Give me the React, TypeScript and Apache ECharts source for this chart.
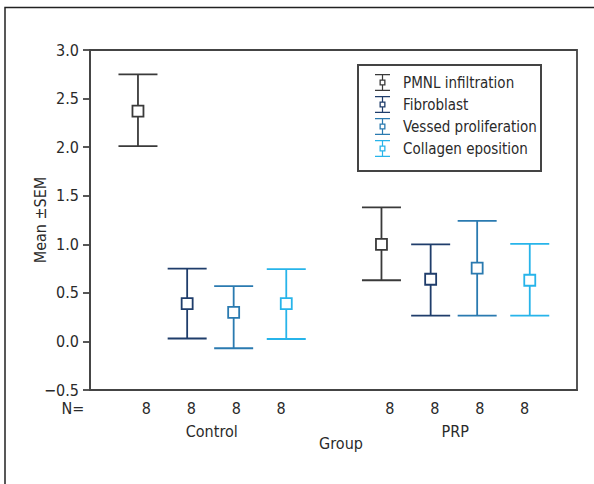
import React, { useEffect, useRef } from 'react';
import * as echarts from 'echarts';

// ---- data ----
const categories = ['Control', 'PRP'];
const seriesNames = ['PMNL infiltration', 'Fibroblast', 'Vessed proliferation', 'Collagen eposition'];

const pmnlMean = [2.37, 1.0];
const pmnlLow = [2.01, 0.63];
const pmnlHigh = [2.75, 1.38];

const fibroMean = [0.39, 0.64];
const fibroLow = [0.03, 0.265];
const fibroHigh = [0.75, 1.0];

const vessedMean = [0.3, 0.755];
const vessedLow = [-0.07, 0.265];
const vessedHigh = [0.57, 1.24];

const collagenMean = [0.39, 0.63];
const collagenLow = [0.025, 0.265];
const collagenHigh = [0.745, 1.005];

const nControl = [8, 8, 8, 8];
const nPRP = [8, 8, 8, 8];

const yMin = -0.5;
const yMax = 3.0;
const yInterval = 0.5;

// ---- styling ----
const colors = ['#3a3a3a', '#1f3d6b', '#2a7ab0', '#27b4ea'];
const barOffsets = [-0.303, -0.101, 0.09, 0.306];
const nOffsets = [-0.269, -0.084, 0.101, 0.285];
const FONT = "'Liberation Sans Narrow', 'DejaVu Sans Condensed', 'Roboto Condensed', 'Open Sans', sans-serif";
const TEXT = '#2a2a2a';

const ICON =
  'path://M0,0H15V1.3H0Z M0,15.7H15V17H0Z M6.9,1.3H8.1V5.5H6.9Z M6.9,11.5H8.1V15.7H6.9Z M4.5,5.5H10.5V11.5H4.5Z M5.8,6.8V10.2H9.2V6.8Z';

const means = [pmnlMean, fibroMean, vessedMean, collagenMean];
const lows = [pmnlLow, fibroLow, vessedLow, collagenLow];
const highs = [pmnlHigh, fibroHigh, vessedHigh, collagenHigh];
const nByGroup = [nControl, nPRP];

export default function App() {
  const ref = useRef<HTMLDivElement>(null);

  useEffect(() => {
    document.body.style.margin = '0';
    if (!ref.current) return;
    const chart = echarts.init(ref.current, undefined, { renderer: 'svg' });

    const series = seriesNames.map((name, i) => ({
      name,
      type: 'custom' as const,
      clip: false,
      itemStyle: { color: colors[i] },
      data: categories.map((_, g) => [g, lows[i][g], means[i][g], highs[i][g], nByGroup[g][i]]),
      renderItem: (params: any, api: any) => {
        const cat = api.value(0);
        const band = api.size([1, 0])[0];
        const center = api.coord([cat, 0])[0];
        const cx = center + band * barOffsets[i];
        const nx = center + band * nOffsets[i];
        const yLow = api.coord([cat, api.value(1)])[1];
        const yMean = api.coord([cat, api.value(2)])[1];
        const yHigh = api.coord([cat, api.value(3)])[1];
        const yBottom = api.coord([cat, yMin])[1];
        const cap = 19.5;
        const st = { stroke: colors[i], lineWidth: 1.8 };
        return {
          type: 'group',
          children: [
            { type: 'line', shape: { x1: cx, y1: yHigh, x2: cx, y2: yLow }, style: st },
            { type: 'line', shape: { x1: cx - cap, y1: yHigh, x2: cx + cap, y2: yHigh }, style: st },
            { type: 'line', shape: { x1: cx - cap, y1: yLow, x2: cx + cap, y2: yLow }, style: st },
            {
              type: 'rect',
              shape: { x: cx - 5.5, y: yMean - 5.5, width: 11, height: 11 },
              style: { fill: '#ffffff', stroke: colors[i], lineWidth: 1.8 },
            },
            {
              type: 'text',
              x: nx,
              y: yBottom + 18,
              style: {
                text: String(api.value(4)),
                fill: TEXT,
                fontSize: 16,
                fontFamily: FONT,
                align: 'center',
                verticalAlign: 'middle',
              },
            },
          ],
        };
      },
    }));

    chart.setOption({
      animation: false,
      textStyle: { fontFamily: FONT },
      grid: {
        left: 90,
        right: 17,
        top: 50,
        bottom: 94,
        show: true,
        borderColor: '#444',
        borderWidth: 1.8,
        backgroundColor: 'transparent',
      },
      legend: {
        left: 375,
        top: 74,
        orient: 'vertical',
        itemWidth: 15,
        itemHeight: 17,
        itemGap: 5,
        padding: 0,
        data: seriesNames.map((n, i) => ({ name: n, icon: ICON, itemStyle: { color: colors[i] } })),
        textStyle: { fontSize: 15, color: TEXT, fontFamily: FONT, padding: [0, 0, 0, 8] },
      },
      xAxis: {
        type: 'category',
        data: categories,
        boundaryGap: true,
        axisLine: { onZero: false, lineStyle: { color: '#444', width: 1.8 } },
        axisTick: { alignWithLabel: true, length: 10, lineStyle: { color: '#444', width: 1.8 } },
        axisLabel: { margin: 33, fontSize: 16, color: TEXT, fontFamily: FONT },
        name: 'Group',
        nameLocation: 'middle',
        nameGap: 45,
        nameMoveOverlap: false,
        nameTextStyle: { fontSize: 16, color: TEXT, fontFamily: FONT, padding: [0, 0, 0, 15] },
      },
      yAxis: {
        type: 'value',
        min: yMin,
        max: yMax,
        interval: yInterval,
        splitLine: { show: false },
        axisLine: { show: true, lineStyle: { color: '#444', width: 1.8 } },
        axisTick: { show: true, length: 7, lineStyle: { color: '#444', width: 1.8 } },
        axisLabel: {
          margin: 11,
          fontSize: 16,
          color: TEXT,
          fontFamily: FONT,
          formatter: (v: number) => (v < 0 ? '\u2212' + Math.abs(v).toFixed(1) : v.toFixed(1)),
        },
        name: 'Mean \u00b1SEM',
        nameLocation: 'middle',
        nameGap: 42,
        nameMoveOverlap: false,
        nameTextStyle: { fontSize: 16, color: TEXT, fontFamily: FONT },
      },
      graphic: [
        {
          type: 'polyline',
          shape: { points: [[5, 484], [5, 7.5], [594, 7.5]] },
          style: { stroke: '#222', lineWidth: 1.5, fill: 'none' },
          silent: true,
        },
        {
          type: 'rect',
          shape: { x: 358, y: 65, width: 183, height: 106 },
          style: { stroke: '#444', lineWidth: 2, fill: 'none' },
          silent: true,
        },
        {
          type: 'text',
          x: 73,
          y: 408,
          style: { text: 'N=', fill: TEXT, fontSize: 16, fontFamily: FONT, align: 'center', verticalAlign: 'middle' },
          silent: true,
        },
      ],
      series,
    });

    return () => chart.dispose();
  }, []);

  return <div ref={ref} style={{ width: 594, height: 484 }} />;
}
